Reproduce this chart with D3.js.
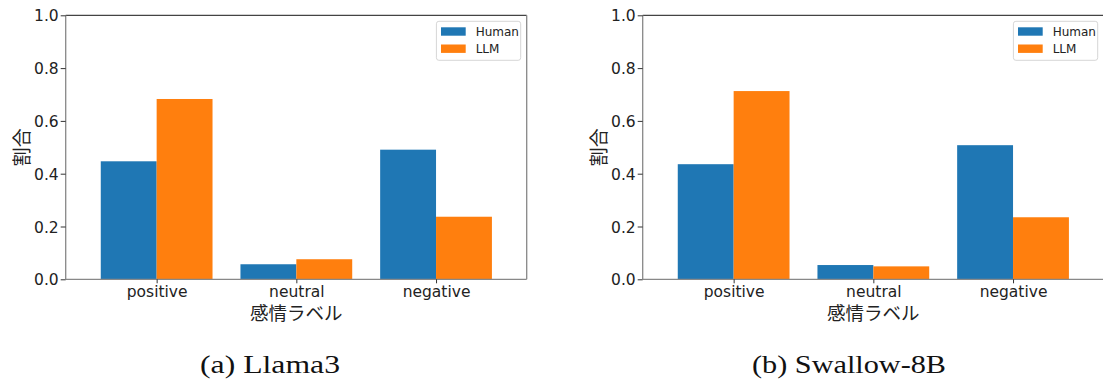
<!DOCTYPE html>
<html><head><meta charset="utf-8">
<script src="https://cdn.jsdelivr.net/npm/d3@7"></script>
<style>
html,body{margin:0;padding:0;background:#fff;}
svg{display:block;}
</style></head>
<body>
<svg id="chart" width="1103" height="382"></svg>
<script>
const categories = ["positive", "neutral", "negative"];
const seriesNames = ["Human", "LLM"];
const llama3Human = [0.447, 0.057, 0.491];
const llama3LLM = [0.683, 0.076, 0.237];
const swallowHuman = [0.436, 0.054, 0.508];
const swallowLLM = [0.713, 0.049, 0.235];
const yTicks = [0.0, 0.2, 0.4, 0.6, 0.8, 1.0];
const xLabel = "感情ラベル";
const yLabel = "割合";
const captions = ["(a) Llama3", "(b) Swallow-8B"];
const colors = ["#1f77b4", "#ff7f0e"];

const svg = d3.select("#chart");
const sansFont = "'DejaVu Sans', 'Noto Sans CJK JP', sans-serif";
const cjkFont = "'Noto Sans CJK JP', sans-serif";

const panels = [
  {left: 65.7, right: 526.7, series: [llama3Human, llama3LLM], caption: captions[0], capX: 200, capW: 140},
  {left: 642.7, right: 1103.7, series: [swallowHuman, swallowLLM], caption: captions[1], capX: 752, capW: 194}
];
const plotTop = 15.3, plotBottom = 279.3;
const barW = 0.4;

panels.forEach(p => {
  const g = svg.append("g");
  const x = d3.scaleLinear().domain([-0.651, 2.649]).range([p.left, p.right]);
  const y = d3.scaleLinear().domain([0, 1]).range([plotBottom, plotTop]);

  // bars
  p.series.forEach((vals, si) => {
    g.selectAll(null).data(vals).enter().append("rect")
      .attr("x", (d, i) => x(i - barW + si * barW))
      .attr("width", (d, i) => x(i + si * barW) - x(i - barW + si * barW))
      .attr("y", d => y(d))
      .attr("height", d => y(0) - y(d))
      .attr("fill", colors[si]);
  });

  // spines
  g.append("line").attr("x1", p.left).attr("x2", p.right).attr("y1", plotTop).attr("y2", plotTop)
    .attr("stroke", "#444").attr("stroke-width", 1.2);
  g.append("line").attr("x1", p.left).attr("x2", p.left).attr("y1", plotTop).attr("y2", plotBottom)
    .attr("stroke", "#888").attr("stroke-width", 1.3);
  g.append("line").attr("x1", p.right).attr("x2", p.right).attr("y1", plotTop).attr("y2", plotBottom)
    .attr("stroke", "#888").attr("stroke-width", 1.3);
  g.append("line").attr("x1", p.left).attr("x2", p.right).attr("y1", plotBottom).attr("y2", plotBottom)
    .attr("stroke", "#888").attr("stroke-width", 1.3);

  // y axis
  const ya = g.append("g").attr("transform", `translate(${p.left},0)`)
    .call(d3.axisLeft(y).tickValues(yTicks).tickFormat(d3.format(".1f")).tickSize(5).tickPadding(2));
  ya.select(".domain").remove();
  ya.selectAll(".tick line").attr("stroke", "#333").attr("stroke-width", 1);
  ya.selectAll(".tick text").attr("font-family", sansFont).attr("font-size", 15.5)
    .attr("fill", "#222").attr("dy", "0.36em");

  // x axis
  const xa = g.append("g").attr("transform", `translate(0,${plotBottom})`)
    .call(d3.axisBottom(x).tickValues([0, 1, 2]).tickFormat(i => categories[i]).tickSize(4).tickPadding(2.5));
  xa.select(".domain").remove();
  xa.selectAll(".tick line").attr("stroke", "#333").attr("stroke-width", 1);
  xa.selectAll(".tick text").attr("font-family", sansFont).attr("font-size", 15.5)
    .attr("fill", "#222").attr("dy", "0.71em");

  // axis labels
  g.append("text").attr("x", x(1)).attr("y", 319.5).attr("text-anchor", "middle")
    .attr("font-family", cjkFont).attr("font-size", 18.5).attr("fill", "#222").text(xLabel);
  g.append("text").attr("transform", `translate(${p.left - 37},${(plotTop + plotBottom) / 2}) rotate(-90)`)
    .attr("text-anchor", "middle").attr("font-family", cjkFont).attr("font-size", 19)
    .attr("fill", "#222").text(yLabel);

  // legend
  const lx = p.right - 90.3, ly = 21.3;
  g.append("rect").attr("x", lx).attr("y", ly).attr("width", 84.3).attr("height", 39)
    .attr("rx", 2.5).attr("fill", "#fff").attr("fill-opacity", 0.8)
    .attr("stroke", "#d6d6d6").attr("stroke-width", 1);
  seriesNames.forEach((n, si) => {
    const cy = 31.5 + si * 17.2;
    g.append("rect").attr("x", lx + 4.6).attr("y", cy - 4.2).attr("width", 24.7).attr("height", 8.4)
      .attr("fill", colors[si]);
    g.append("text").attr("x", lx + 39.3).attr("y", cy).attr("dy", "0.36em")
      .attr("font-family", sansFont).attr("font-size", 12).attr("fill", "#222").text(n);
  });

  // caption
  g.append("text").attr("x", p.capX).attr("y", 373.3)
    .attr("font-family", "'Liberation Serif', 'DejaVu Serif', serif").attr("font-size", 26)
    .attr("textLength", p.capW).attr("lengthAdjust", "spacingAndGlyphs")
    .attr("fill", "#111").text(p.caption);
});
</script>
</body></html>
